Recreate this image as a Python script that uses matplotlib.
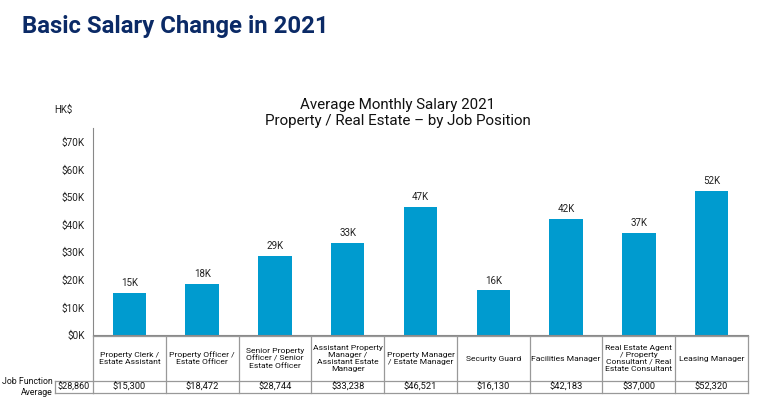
import matplotlib
matplotlib.use("Agg")
import matplotlib.pyplot as plt
import matplotlib.transforms as mtransforms
from matplotlib.lines import Line2D

plt.rcParams['font.family'] = ['Roboto', 'DejaVu Sans']

positions = ["Property Clerk /\nEstate Assistant",
             "Property Officer /\nEstate Officer",
             "Senior Property\nOfficer / Senior\nEstate Officer",
             "Assistant Property\nManager /\nAssistant Estate\nManager",
             "Property Manager\n/ Estate Manager",
             "Security Guard",
             "Facilities Manager",
             "Real Estate Agent\n/ Property\nConsultant / Real\nEstate Consultant",
             "Leasing Manager"]
salaries = [15300, 18472, 28744, 33238, 46521, 16130, 42183, 37000, 52320]
bar_labels = ["15K", "18K", "29K", "33K", "47K", "16K", "42K", "37K", "52K"]
function_average = 28860
yticks = [0, 10000, 20000, 30000, 40000, 50000, 60000, 70000]
ytick_labels = ["$0K", "$10K", "$20K", "$30K", "$40K", "$50K", "$60K", "$70K"]

W, H = 783, 412
fig = plt.figure(figsize=(W / 100, H / 100), dpi=100)
ax = fig.add_axes([93 / W, 1 - 335 / H, (748 - 93) / W, (335 - 128) / H])

bar_color = "#009BCF"
x = list(range(len(salaries)))
bars = ax.bar(x, salaries, width=0.46, color=bar_color)
for b, lab in zip(bars, bar_labels):
    ax.text(b.get_x() + b.get_width() / 2, b.get_height() + 1800, lab,
            ha="center", va="bottom", fontsize=7, color="#222222")

ax.set_xlim(-0.5, len(salaries) - 0.5)
ax.set_ylim(0, 75000)
ax.set_yticks(yticks)
ax.set_yticklabels(ytick_labels, fontsize=7.2, color="#222222")
ax.set_xticks([])
ax.tick_params(axis="y", length=0, pad=6)
for s in ["top", "right"]:
    ax.spines[s].set_visible(False)
ax.spines["left"].set_color("#888888")
ax.spines["bottom"].set_color("#888888")
ax.spines["left"].set_linewidth(0.8)
ax.spines["bottom"].set_linewidth(0.8)

# Titles
fig.text(22 / W, 1 - 27 / H, "Basic Salary Change in 2021", fontsize=17.2,
         fontweight="bold", color="#0B2A66", ha="left", va="center")
fig.text(398 / W, 1 - 113 / H, "Average Monthly Salary 2021\nProperty / Real Estate \u2013 by Job Position",
         fontsize=10.9, color="#111111", ha="center", va="center", linespacing=1.25)
fig.text(63 / W, 1 - 110 / H, "HK$", fontsize=7, color="#222222", ha="center", va="center")

# Table drawn below the axes
trans = mtransforms.blended_transform_factory(ax.transData, fig.transFigure)
ftrans = fig.transFigure
y_top = 1 - 336 / H
y_mid = 1 - 381 / H
y_bot = 1 - 393 / H
lc = "#999999"
lw = 0.9
n = len(salaries)
for yy in [y_top, y_mid, y_bot]:
    fig.add_artist(Line2D([-0.5, n - 0.5], [yy, yy], transform=trans, color=lc, lw=lw))
for i in range(n + 1):
    fig.add_artist(Line2D([i - 0.5, i - 0.5], [y_top, y_bot], transform=trans, color=lc, lw=lw))
x_left = 55 / W
x_axl = 93 / W
fig.add_artist(Line2D([x_left, x_axl], [y_mid, y_mid], transform=ftrans, color=lc, lw=lw))
fig.add_artist(Line2D([x_left, x_axl], [y_bot, y_bot], transform=ftrans, color=lc, lw=lw))
fig.add_artist(Line2D([x_left, x_left], [y_mid, y_bot], transform=ftrans, color=lc, lw=lw))

for i, (p, v) in enumerate(zip(positions, salaries)):
    fig.text(i, (y_top + y_mid) / 2, p, transform=trans, ha="center", va="center",
             fontsize=6.1, color="#111111", linespacing=1.2)
    fig.text(i, (y_mid + y_bot) / 2, f"${v:,}", transform=trans, ha="center", va="center",
             fontsize=6.7, color="#111111")
fig.text((x_left + x_axl) / 2, (y_mid + y_bot) / 2, f"${function_average:,}",
         transform=ftrans, ha="center", va="center", fontsize=6.5, color="#111111")
fig.text(53 / W, (y_mid + y_bot) / 2, "Job Function\nAverage", transform=ftrans,
         ha="right", va="center", fontsize=6.3, color="#111111", linespacing=1.2)

fig.savefig("out.png", dpi=100)
